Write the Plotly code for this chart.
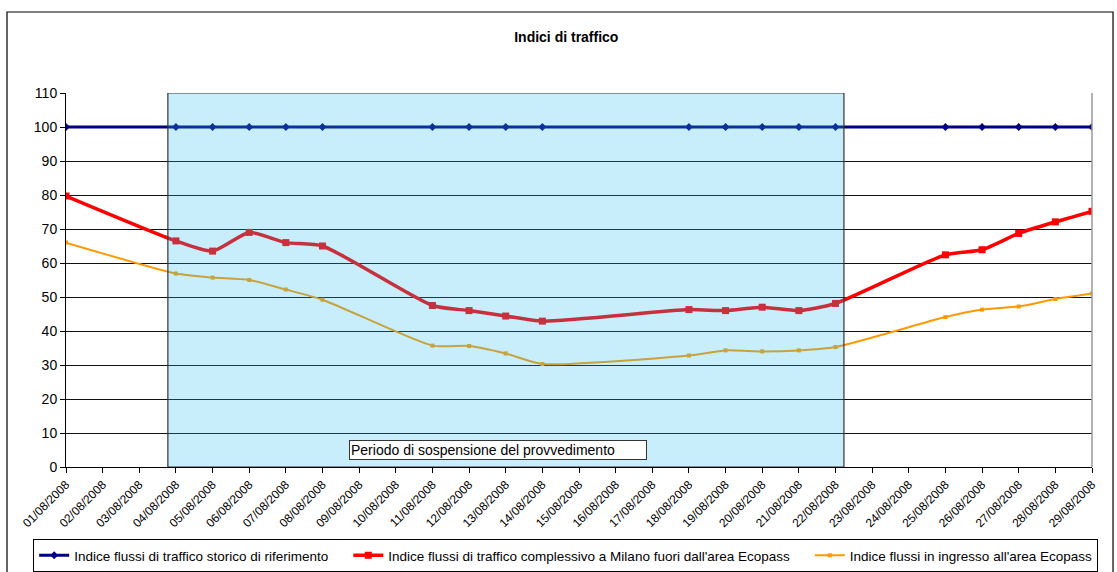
import plotly.graph_objects as go

dates = ["%02d/08/2008" % d for d in range(1, 30)]

# None = no measurement on that day (line connects across)
storico = [100, None, None, 100, 100, 100, 100, 100, None, None, 100, 100, 100, 100,
           None, None, None, 100, 100, 100, 100, 100, None, None, 100, 100, 100, 100, 100]
complessivo = [79.7, None, None, 66.5, 63.5, 69.0, 66.0, 65.0, None, None, 47.5, 46.0, 44.4, 42.9,
               None, None, None, 46.3, 46.0, 47.0, 46.0, 48.1, None, None, 62.4, 63.9, 68.7, 72.1, 75.2]
ingresso = [66.0, None, None, 56.9, 55.7, 55.0, 52.2, 49.2, None, None, 35.7, 35.6, 33.4, 30.3,
            None, None, None, 32.8, 34.3, 34.0, 34.3, 35.3, None, None, 44.1, 46.3, 47.2, 49.4, 51.0]

series_names = ["Indice flussi di traffico storico di riferimento",
                "Indice flussi di traffico complessivo a Milano fuori dall'area Ecopass",
                "Indice flussi in ingresso all'area Ecopass"]

yticks = list(range(0, 111, 10))
period_start, period_end = 2.78, 21.23
period_label = "Periodo di sospensione del provvedimento"

FONT = "Liberation Sans, Arial, sans-serif"
PAD = "\u00a0" * 4

fig = go.Figure()
fig.add_trace(go.Scatter(
    x=dates, y=storico, name=series_names[0] + PAD,
    mode="lines+markers", connectgaps=True,
    line=dict(color="#000080", width=2.8),
    marker=dict(symbol="diamond", size=6, color="#000080")))
fig.add_trace(go.Scatter(
    x=dates, y=complessivo, name=series_names[1] + PAD,
    mode="lines+markers", connectgaps=True,
    line=dict(color="#ff0000", width=3.5, shape="spline", smoothing=0.6),
    marker=dict(symbol="square", size=7, color="#ff0000")))
fig.add_trace(go.Scatter(
    x=dates, y=ingresso, name=series_names[2],
    mode="lines+markers", connectgaps=True,
    line=dict(color="#ff9900", width=2, shape="spline", smoothing=0.6),
    marker=dict(symbol="square", size=4, color="#ff9900")))

# shaded suspension period (translucent layer over the lines, as in the original)
fig.add_shape(type="rect", xref="x", yref="y", x0=period_start, x1=period_end, y0=0, y1=110,
              fillcolor="rgba(40,190,235,0.26)", line=dict(color="#333333", width=1.2), layer="above")
# outer chart frame
fig.add_shape(type="rect", xref="paper", yref="paper", x0=-0.0575, x1=1.0205, y0=-0.285, y1=1.2166,
              line=dict(color="black", width=1.2), fillcolor="rgba(0,0,0,0)")

fig.add_annotation(x=11.79, y=5, xref="x", yref="y", text=period_label, showarrow=False,
                   font=dict(family=FONT, size=14, color="black"), bgcolor="white",
                   bordercolor="#333333", borderwidth=1, width=294, height=16, align="left")

fig.update_layout(
    width=1117, height=572,
    margin=dict(l=66, r=25, t=93, b=105, autoexpand=False),
    paper_bgcolor="white", plot_bgcolor="white",
    font=dict(family=FONT, size=12, color="black"),
    title=dict(text="<b>Indici di traffico</b>", x=0.507, xref="container", xanchor="center",
               y=0.935, yref="container", yanchor="middle", font=dict(size=14, family=FONT)),
    showlegend=True,
    legend=dict(orientation="h", x=-0.032, xanchor="left", y=-0.1925, yanchor="top",
                bordercolor="black", borderwidth=1, bgcolor="white",
                font=dict(size=13.5, family=FONT), itemwidth=30, tracegroupgap=0),
)
fig.update_xaxes(type="category", range=[0, 28], showgrid=False, showline=True, linecolor="black",
                 linewidth=1, ticks="outside", ticklen=5, tickcolor="black", tickangle=-45,
                 tickfont=dict(size=12, family=FONT), mirror=False, zeroline=False, automargin=False)
fig.update_yaxes(range=[0, 110], tickvals=yticks, showgrid=True, gridcolor="#111111", gridwidth=1,
                 showline=True, linecolor="black", linewidth=1, ticks="outside", ticklen=5,
                 tickcolor="black", tickfont=dict(size=14, family=FONT), zeroline=False,
                 automargin=False)
# gray right border of plot area
fig.add_shape(type="line", xref="paper", yref="paper", x0=1, x1=1, y0=0, y1=1,
              line=dict(color="#999999", width=1.5))

fig.write_html("out.html", config={"displayModeBar": False},
               post_script="document.body.style.margin='0px';")
